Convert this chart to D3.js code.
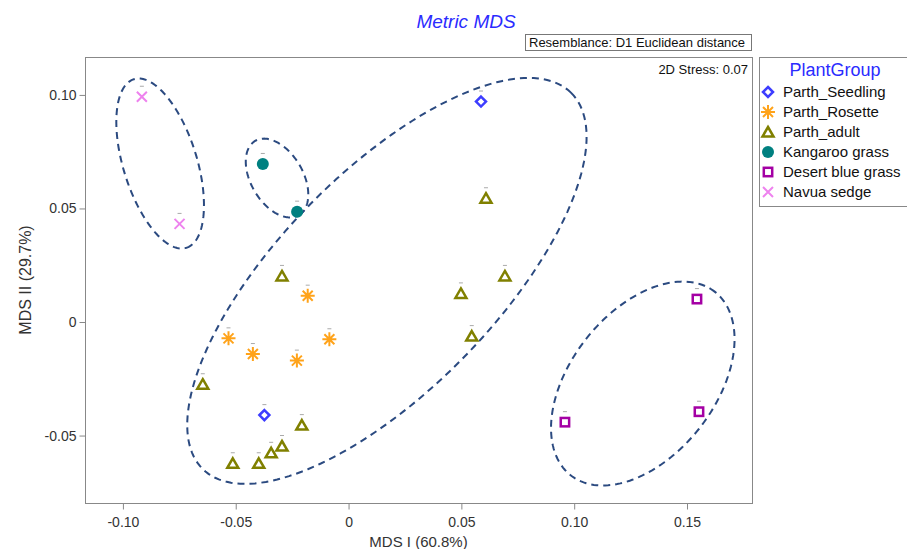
<!DOCTYPE html>
<html>
<head>
<meta charset="utf-8">
<script src="https://cdn.jsdelivr.net/npm/d3@7"></script>
<style>
  body { margin: 0; background: #fff; }
  text { font-family: Arial, "Liberation Sans", sans-serif; }
</style>
</head>
<body>
<script>
// chart values
var groupNames = ["Parth_Seedling", "Parth_Rosette", "Parth_adult", "Kangaroo grass", "Desert blue grass", "Navua sedge"];

var seedlingPts = [[0.0587, 0.0971], [-0.0373, -0.0410]];
var rosettePts = [[-0.0181, 0.0116], [-0.0532, -0.0072], [-0.0424, -0.0141], [-0.0229, -0.0170], [-0.0085, -0.0076]];
var adultPts = [[-0.0295, 0.0203], [-0.0646, -0.0274], [-0.0207, -0.0454], [-0.0295, -0.0546], [-0.0343, -0.0576],
                [-0.0398, -0.0622], [-0.0513, -0.0622], [0.0609, 0.0545], [0.0693, 0.0203], [0.0498, 0.0126], [0.0546, -0.0062]];
var kangarooPts = [[-0.0380, 0.0696], [-0.0228, 0.0486]];
var desertPts = [[0.1544, 0.0101], [0.0959, -0.0441], [0.1553, -0.0395]];
var navuaPts = [[-0.0916, 0.0992], [-0.0749, 0.0432]];

// cluster ellipses: centre x, centre y, semi axis a, semi axis b, angle (deg)
var ellipseCx = [-0.0835, -0.0317, 0.0170, 0.1304];
var ellipseCy = [0.0698, 0.0634, 0.0181, -0.0271];
var ellipseA = [0.0389, 0.0190, 0.1163, 0.0515];
var ellipseB = [0.0163, 0.0115, 0.0479, 0.0319];
var ellipseAngle = [-72.6, -59.3, 45.4, 51.4];

var xTicks = [-0.10, -0.05, 0, 0.05, 0.10, 0.15];
var xTickLabels = ["-0.10", "-0.05", "0", "0.05", "0.10", "0.15"];
var yTicks = [-0.05, 0, 0.05, 0.10];
var yTickLabels = ["-0.05", "0", "0.05", "0.10"];

var xDomain = [-0.1168, 0.1788];
var yDomain = [-0.0797, 0.1167];

// layout
var width = 907, height = 549;
var margin = ({top: 57, right: 155, bottom: 46, left: 85});

var colors = ["#3d3dff", "#ffa31a", "#808000", "#008080", "#a400a4", "#ee82ee"];
var ellipseColor = "#2b4a80";

const svg = d3.select("body")
              .append("svg")
              .attr("width", width)
              .attr("height", height);

var xScale = d3.scaleLinear()
               .domain(xDomain)
               .range([margin.left, width - margin.right]);
var yScale = d3.scaleLinear()
               .domain(yDomain)
               .range([height - margin.bottom, margin.top]);

// title
svg.append("text")
   .attr("x", 466)
   .attr("y", 28)
   .attr("text-anchor", "middle")
   .style("font-size", "19px")
   .style("font-style", "italic")
   .style("fill", "#2b2bff")
   .text("Metric MDS");

// resemblance box
svg.append("rect")
   .attr("x", 525.5).attr("y", 34.5)
   .attr("width", 226).attr("height", 16)
   .style("fill", "none").style("stroke", "#777");
svg.append("text")
   .attr("x", 529).attr("y", 47)
   .style("font-size", "13px").style("fill", "#111")
   .text("Resemblance: D1 Euclidean distance");

// plot frame
svg.append("rect")
   .attr("x", xScale.range()[0] + 0.5)
   .attr("y", yScale.range()[1] + 0.5)
   .attr("width", xScale.range()[1] - xScale.range()[0])
   .attr("height", yScale.range()[0] - yScale.range()[1])
   .style("fill", "none").style("stroke", "#888");

svg.append("text")
   .attr("x", xScale.range()[1] - 4).attr("y", margin.top + 17)
   .attr("text-anchor", "end")
   .style("font-size", "13px").style("fill", "#111")
   .text("2D Stress: 0.07");

// axes
var xAxis = svg.append("g")
   .attr("transform", "translate(0," + (height - margin.bottom + 0.5) + ")")
   .call(d3.axisBottom(xScale).tickValues(xTicks).tickSize(6)
         .tickFormat(function(d, i) { return xTickLabels[i]; }));
var yAxis = svg.append("g")
   .attr("transform", "translate(" + (margin.left + 0.5) + ",0)")
   .call(d3.axisLeft(yScale).tickValues(yTicks).tickSize(6)
         .tickFormat(function(d, i) { return yTickLabels[i]; }));

[xAxis, yAxis].forEach(function(g) {
  g.select(".domain").remove();
  g.selectAll("line").style("stroke", "#888");
  g.selectAll("text")
   .style("font-size", "14px")
   .style("fill", "#333")
   .style("font-family", "Arial, 'Liberation Sans', sans-serif");
});
xAxis.selectAll("text").attr("dy", "1.05em");
yAxis.selectAll("text").attr("x", -9);

svg.append("text")
   .attr("x", (xScale.range()[0] + xScale.range()[1]) / 2)
   .attr("y", 547)
   .attr("text-anchor", "middle")
   .style("font-size", "15px").style("fill", "#333")
   .text("MDS I (60.8%)");
svg.append("text")
   .attr("transform", "translate(31," + ((yScale.range()[0] + yScale.range()[1]) / 2) + ") rotate(-90)")
   .attr("text-anchor", "middle")
   .style("font-size", "16px").style("fill", "#333")
   .text("MDS II (29.7%)");

// ellipses, sampled in data space and drawn through the scales
var line = d3.line()
             .x(function(p) { return xScale(p[0]); })
             .y(function(p) { return yScale(p[1]); })
             .curve(d3.curveLinearClosed);

ellipseCx.forEach(function(cx, i) {
  var phi = ellipseAngle[i] * Math.PI / 180;
  var pts = d3.range(0, 180).map(function(k) {
    var t = k / 180 * 2 * Math.PI;
    var dx = ellipseA[i] * Math.cos(t), dy = ellipseB[i] * Math.sin(t);
    return [cx + dx * Math.cos(phi) - dy * Math.sin(phi),
            ellipseCy[i] + dx * Math.sin(phi) + dy * Math.cos(phi)];
  });
  svg.append("path")
     .attr("d", line(pts))
     .style("fill", "none")
     .style("stroke", ellipseColor)
     .style("stroke-width", 2)
     .style("stroke-dasharray", "7,5");
});

// marker shapes
function drawMarker(g, k) {
  var c = colors[k];
  if (k == 0) {
    g.append("path").attr("d", "M0,-5L5,0L0,5L-5,0Z")
     .style("fill", "none").style("stroke", c).style("stroke-width", 2.5);
  } else if (k == 1) {
    g.append("path").attr("d", "M0,-7V7M-7,0H7M-5,-5L5,5M-5,5L5,-5")
     .style("stroke", c).style("stroke-width", 2);
  } else if (k == 2) {
    g.append("path").attr("d", "M0,-5L5.5,4.5L-5.5,4.5Z")
     .style("fill", "none").style("stroke", c).style("stroke-width", 2.5)
     .style("stroke-linejoin", "miter");
  } else if (k == 3) {
    g.append("circle").attr("r", 6).style("fill", c);
  } else if (k == 4) {
    g.append("rect").attr("x", -4.2).attr("y", -4.2).attr("width", 8.4).attr("height", 8.4)
     .style("fill", "none").style("stroke", c).style("stroke-width", 2.5);
  } else {
    g.append("path").attr("d", "M-5,-5L5,5M-5,5L5,-5")
     .style("stroke", c).style("stroke-width", 2);
  }
}

var allGroups = [seedlingPts, rosettePts, adultPts, kangarooPts, desertPts, navuaPts];
allGroups.forEach(function(pts, k) {
  svg.selectAll(".pt" + k)
     .data(pts)
     .enter()
     .append("g")
     .attr("class", "pt" + k)
     .attr("transform", function(d) { return "translate(" + xScale(d[0]) + "," + yScale(d[1]) + ")"; })
     .each(function() {
       var g = d3.select(this);
       // faint sample label above each point
       g.append("rect").attr("x", -2).attr("y", -11).attr("width", 4).attr("height", 1)
        .style("fill", "#aaa");
       drawMarker(g, k);
     });
});

// legend
var legend = svg.append("g").attr("transform", "translate(759,57)");
legend.append("rect")
      .attr("x", 0.5).attr("y", 0.5)
      .attr("width", 160).attr("height", 149)
      .style("fill", "none").style("stroke", "#888");
legend.append("text")
      .attr("x", 76).attr("y", 19)
      .attr("text-anchor", "middle")
      .style("font-size", "18px").style("fill", "#2b2bff")
      .text("PlantGroup");
groupNames.forEach(function(name, k) {
  var item = legend.append("g").attr("transform", "translate(9," + (35 + k * 20) + ")");
  drawMarker(item, k);
  item.append("text")
      .attr("x", 15).attr("y", 5)
      .style("font-size", "15px").style("fill", "#111")
      .text(name);
});
</script>
</body>
</html>
